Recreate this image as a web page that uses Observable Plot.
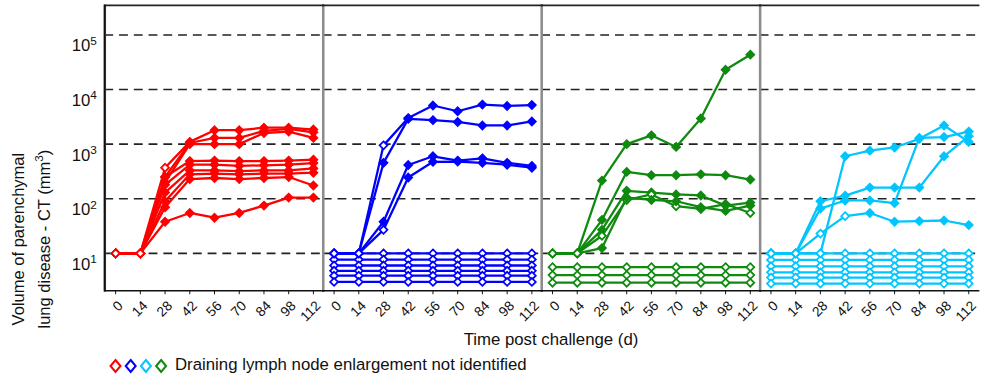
<!DOCTYPE html>
<html><head><meta charset="utf-8">
<script src="https://cdn.jsdelivr.net/npm/d3@7"></script>
<script src="https://cdn.jsdelivr.net/npm/@observablehq/plot@0.6"></script>
<style>
body{margin:0;overflow:hidden;background:#fff;font-family:"Liberation Sans",Arial,sans-serif;color:#111;}
#wrap{position:relative;width:984px;height:375px;overflow:hidden;}
#xtitle{position:absolute;left:351px;width:400px;text-align:center;top:330px;font-size:16.8px;line-height:19px;}
#legend{position:absolute;left:105px;top:355px;height:20px;font-size:16.8px;line-height:20px;display:flex;align-items:center;}
#legend svg{display:block}
#chart svg{overflow:visible}
</style></head><body><div id="wrap"><div id="chart"></div><div id="xtitle">Time post challenge (d)</div><div id="legend"></div></div>
<script>
// ---- data ----
const days = [0, 14, 28, 42, 56, 70, 84, 98, 112];
const panels = ["red", "blue", "green", "cyan"];
const colors = {red: "#ff0000", blue: "#0000ff", green: "#0f8a0f", cyan: "#00c5ff"};
const legendOrder = ["red", "blue", "cyan", "green"];
const yTicks = [10, 100, 1000, 10000, 100000];

// rising series (values at each day) and indexes of open (not identified) markers
const redSeries = [
  [10, 10, 370, 1100, 1800, 1800, 2000, 2000, 1850],
  [10, 10, 250, 1050, 1300, 1300, 1750, 1900, 1650],
  [10, 10, 200, 1000, 1000, 1000, 1600, 1700, 1300],
  [10, 10, 250, 490, 500, 490, 490, 500, 520],
  [10, 10, 180, 420, 420, 400, 410, 420, 450],
  [10, 10, 130, 330, 330, 320, 330, 330, 360],
  [10, 10, 90, 280, 290, 280, 290, 290, 300],
  [10, 10, 70, 230, 240, 230, 240, 250, 175],
  [10, 10, 38, 55, 45, 55, 75, 105, 105]
];
const redOpen = [[0, 1, 2], [0, 1], [0, 1], [0, 1], [0, 1], [0, 1], [0, 1], [0, 1], [0, 1]];

const blueSeries = [
  [10, 10, 950, 3000, 5100, 4000, 5300, 5000, 5200],
  [10, 10, 455, 2900, 2750, 2550, 2200, 2200, 2600],
  [10, 10, 38, 415, 600, 500, 550, 455, 400],
  [10, 10, 27, 245, 475, 480, 455, 420, 370]
];
const blueOpen = [[0, 1, 2], [0, 1], [0, 1], [0, 1, 2]];
const blueFlat = [10, 7.7, 6.0, 4.8, 3.9, 3.0];

const greenSeries = [
  [10, 10, 215, 1000, 1450, 890, 2950, 23000, 43500],
  [10, 10, 41, 310, 270, 270, 280, 270, 225],
  [10, 10, 27, 140, 130, 120, 115, 75, 85],
  [10, 10, 21, 95, 120, 73, 65, 80, 55],
  [10, 10, 12.5, 105, 95, 90, 70, 60, 75]
];
const greenOpen = [[0, 1], [0, 1], [0, 1], [0, 1, 2, 3, 4, 5, 6, 8], [0, 1]];
const greenFlat = [5.6, 4.0, 2.9];

const cyanSeries = [
  [10, 10, 10, 600, 760, 870, 1250, 2200, 1100],
  [10, 10, 90, 114, 160, 160, 160, 600, 1400],
  [10, 10, 66, 93, 93, 83, 1300, 1350, 1700],
  [10, 10, 23, 48, 55, 38, 39, 40, 33]
];
const cyanOpen = [[0, 1, 2], [0, 1], [0, 1], [0, 1, 2, 3]];
const cyanFlat = [10, 7.6, 5.8, 4.5, 3.6, 2.8];

// ---- build tables ----
const rising = [], flat = [];
function addSeries(panel, series, open) {
  series.forEach((vals, s) => vals.forEach((v, i) =>
    rising.push({panel, id: panel + "r" + s, day: days[i], v, open: open[s].includes(i)})));
}
function addFlat(panel, levels) {
  levels.forEach((lv, s) => days.forEach(day =>
    flat.push({panel, id: panel + "f" + s, day, v: lv, open: true})));
}
addFlat("blue", blueFlat); addFlat("green", greenFlat); addFlat("cyan", cyanFlat);
addSeries("red", redSeries, redOpen); addSeries("blue", blueSeries, blueOpen);
addSeries("green", greenSeries, greenOpen); addSeries("cyan", cyanSeries, cyanOpen);

const xDomain = [-6.13, 117.57];
const sup = {1: "\u00b9", 2: "\u00b2", 3: "\u00b3", 4: "\u2074", 5: "\u2075"};
const col = d => colors[d.panel];
const lineOpts = {fx: "panel", x: "day", y: "v", z: "id", stroke: col, strokeWidth: 2.3};
const dotOpts = {fx: "panel", x: "day", y: "v", symbol: "diamond2", r: 3.6, stroke: col,
  fill: d => d.open ? "white" : colors[d.panel], strokeWidth: 1.8};

const chart = Plot.plot({
  width: 1000, height: 330,
  marginLeft: 106, marginRight: 6, marginTop: 5, marginBottom: 35,
  style: {fontFamily: "'Liberation Sans', Arial, sans-serif", color: "#111", background: "white", overflow: "visible"},
  fx: {domain: panels, padding: 0, axis: null},
  x: {domain: xDomain, axis: null},
  y: {type: "log", domain: [2.067, 347000], axis: null},
  color: {type: "identity"},
  marks: [
    Plot.ruleY(yTicks, {stroke: "#222", strokeWidth: 1.6, strokeDasharray: "9,6"}),
    Plot.line(flat, lineOpts),
    Plot.dot(flat, dotOpts),
    Plot.line(rising, lineOpts),
    Plot.dot(rising, dotOpts),
    Plot.frame({anchor: "left", stroke: "#8c8c8c", strokeWidth: 2.6}),
    Plot.frame({anchor: "top", stroke: "#222", strokeWidth: 1.6}),
    Plot.frame({anchor: "bottom", stroke: "#111", strokeWidth: 1.6}),
    Plot.ruleX(panels.slice(0, 1), {fx: d => d, x: () => xDomain[0], stroke: "#111", strokeWidth: 2}),
    Plot.axisX(days, {tickRotate: -45, tickSize: 4, tickPadding: 6, fontSize: 14, label: null}),
    Plot.axisY(yTicks, {tickSize: 0, tickPadding: 8, fontSize: 17, label: null,
      tickFormat: d => "10" + sup[Math.round(Math.log10(d))]})
  ]
});
document.getElementById("chart").appendChild(chart);

// nudge rotated x tick labels (right/down) like the reference
d3.select(chart).selectAll('g[aria-label="x-axis tick label"]').attr("transform", function() {
  return (this.getAttribute("transform") || "") + " translate(5,3)";
});

// superscript exponents on y tick labels
const inv = {"\u00b9": "1", "\u00b2": "2", "\u00b3": "3", "\u2074": "4", "\u2075": "5"};
d3.select(chart).selectAll('g[aria-label="y-axis tick label"] text').each(function() {
  const t = d3.select(this);
  const s = t.text();
  const e = inv[s.slice(-1)];
  if (!e) return;
  t.text("10").attr("dy", "0.66em");
  t.append("tspan").attr("dy", "-0.55em").attr("font-size", "12px").text(e);
});

// y axis title (two lines)
const g = d3.select(chart).append("g").attr("fill", "#111")
  .attr("font-family", "'Liberation Sans', Arial, sans-serif").attr("font-size", "16.8px");
g.append("text").attr("x", -243).attr("y", 24).attr("transform", "rotate(-90)")
  .text("Volume of parenchymal");
const t2 = g.append("text").attr("x", -243).attr("y", 51).attr("transform", "rotate(-90)")
  .text("lung disease - CT (mm");
t2.append("tspan").attr("dy", -7).attr("font-size", "12px").text("3");
t2.append("tspan").attr("dy", 7).text(")");

// legend
const lg = d3.select("#legend");
const ls = lg.append("svg").attr("width", 66).attr("height", 20);
legendOrder.forEach((p, i) => {
  const cx = 10.5 + i * 15.2, cy = 11;
  ls.append("path").attr("d", `M${cx},${cy - 6}L${cx + 5},${cy}L${cx},${cy + 6}L${cx - 5},${cy}Z`)
    .attr("fill", "white").attr("stroke", colors[p]).attr("stroke-width", 2);
});
lg.append("span").style("margin-left", "4px").text("Draining lymph node enlargement not identified");
</script></body></html>
